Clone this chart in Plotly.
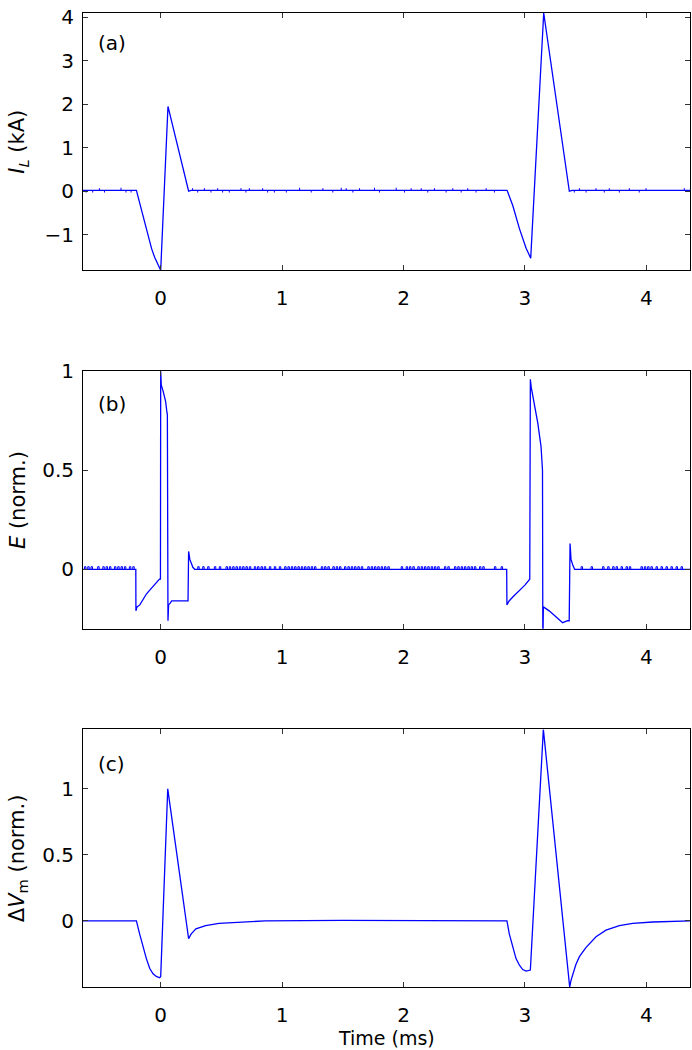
import plotly.graph_objects as go

# ---------------- data ----------------
# (a) lesion current I_L (kA)
IL_t = [-0.64, -0.2, -0.175, -0.15, -0.125, -0.1, -0.075, -0.05, -0.025, 0.0, 0.06, 0.23, 0.25,
        2.853, 2.9, 2.955, 3.01, 3.048, 3.155, 3.366, 3.39, 4.36]
IL_v = [0.02, 0.02, -0.25, -0.52, -0.8, -1.07, -1.32, -1.52, -1.68, -1.82, 1.95, 0.0, 0.02,
        0.02, -0.33, -0.86, -1.31, -1.54, 4.1, 0.0, 0.02, 0.02]
IL_spike_t = [-0.615, -0.56, -0.505, -0.463, -0.327, -0.286, -0.244,
              0.263, 0.305, 0.36, 0.414, 0.469, 0.51, 0.565, 0.661, 0.702, 0.73, 0.84, 0.881, 0.936,
              1.035, 1.144, 1.24, 1.336, 1.418, 1.487, 1.528, 1.583, 1.638, 1.761, 1.802, 1.94,
              2.008, 2.063, 2.146, 2.2, 2.255, 2.351, 2.406, 2.475, 2.529, 2.598, 2.681, 2.749,
              3.407, 3.449, 3.504, 3.586, 3.654, 3.695, 3.778, 3.86, 3.942, 3.998, 4.313]
IL_spike_a = [-0.05, -0.05, 0.05, -0.05, 0.06, -0.05, -0.05,
              0.05, -0.05, 0.05, -0.05, 0.05, -0.05, -0.05, 0.05, -0.05, 0.05, 0.05, -0.05, -0.05,
              -0.05, 0.06, -0.05, 0.05, -0.05, 0.06, 0.05, -0.05, 0.05, 0.06, -0.05, 0.06,
              -0.05, 0.05, 0.05, -0.05, 0.05, -0.05, 0.05, -0.05, 0.05, -0.05, 0.05, -0.05,
              -0.05, 0.05, -0.05, 0.05, -0.05, 0.05, -0.05, 0.05, -0.05, 0.05, 0.05]

# (b) electric field E (norm.)
E_t = [-0.64, -0.205, -0.204, -0.195, -0.172, -0.145, -0.118, -0.09, -0.063, -0.035, -0.01, -0.002,
       0.0, 0.005, 0.02, 0.04, 0.05, 0.055, 0.06, 0.065, 0.08, 0.09, 0.225, 0.23, 0.24, 0.25, 0.265, 0.28,
       2.85, 2.852, 2.87, 2.9, 2.95, 3.0, 3.04, 3.045, 3.052, 3.078, 3.106, 3.133, 3.145, 3.148, 3.152,
       3.2, 3.257, 3.311, 3.352, 3.365, 3.372, 3.38, 3.395, 3.41, 4.36]
E_v = [0, 0, -0.21, -0.19, -0.18, -0.15, -0.125, -0.105, -0.085, -0.07, -0.05, -0.05,
       1.0, 0.93, 0.9, 0.85, 0.80, 0.78, -0.26, -0.18, -0.17, -0.16, -0.16, 0.09, 0.05, 0.03, 0.01, 0.0,
       0.0, -0.18, -0.16, -0.14, -0.11, -0.08, -0.05, 0.96, 0.92, 0.84, 0.74, 0.62, 0.5, -0.4, -0.19,
       -0.21, -0.24, -0.27, -0.26, -0.26, 0.13, 0.05, 0.02, 0.0, 0.0]
E_spike_t = [-0.628, -0.601, -0.574, -0.519, -0.477, -0.45, -0.422, -0.381, -0.354, -0.327, -0.299, -0.258, -0.23,
             0.305, 0.346, 0.387, 0.442, 0.483, 0.538, 0.565, 0.593, 0.62, 0.648, 0.675, 0.702, 0.73,
             0.771, 0.798, 0.826, 0.853, 0.895, 0.936, 0.977, 1.021, 1.048, 1.076, 1.103, 1.13, 1.158,
             1.185, 1.212, 1.24, 1.267, 1.323, 1.35, 1.377, 1.418, 1.446, 1.473, 1.514, 1.542, 1.57,
             1.597, 1.624, 1.652, 1.706, 1.734, 1.761, 1.788, 1.816, 1.844, 1.871, 1.981, 2.022, 2.049,
             2.077, 2.118, 2.146, 2.173, 2.2, 2.228, 2.255, 2.282, 2.337, 2.365, 2.42, 2.447, 2.475,
             2.502, 2.53, 2.557, 2.584, 2.626, 2.653, 2.749, 2.804,
             3.463, 3.545, 3.64, 3.682, 3.723, 3.751, 3.792, 3.833, 3.86, 3.956, 3.984, 4.011, 4.038,
             4.08, 4.121, 4.162, 4.203, 4.245, 4.286]
E_spike_h = 0.013

# (c) membrane potential change dVm (norm.)
Vm_t = [-0.64, -0.2, -0.173, -0.145, -0.118, -0.09, -0.063, -0.036, -0.008, 0.0, 0.058, 0.23, 0.25,
        0.29, 0.37, 0.48, 0.645, 0.86, 1.5, 2.0, 2.5, 2.852, 2.872, 2.9, 2.927, 2.955, 2.982, 3.01,
        3.045, 3.152, 3.369, 3.38, 3.394, 3.42, 3.449, 3.504, 3.586, 3.668, 3.778, 3.888, 4.052, 4.36]
Vm_v = [0, 0, -0.1, -0.2, -0.285, -0.36, -0.4, -0.42, -0.43, -0.42, 1.0, -0.135, -0.1,
        -0.06, -0.035, -0.018, -0.008, 0.0, 0.005, 0.005, 0.005, 0.0, -0.1, -0.2, -0.285, -0.335, -0.368, -0.38,
        -0.372, 1.45, -0.5, -0.45, -0.4, -0.33, -0.27, -0.2, -0.12, -0.07, -0.035, -0.018, -0.008, 0.0]

x_ticks = [0, 1, 2, 3, 4]
x_range = [-0.64, 4.36]
panel_labels = ["(a)", "(b)", "(c)"]

# ---------------- figure ----------------
BLUE = "rgb(0,0,255)"
FONT = "DejaVu Sans, Liberation Sans, Arial, sans-serif"
fig = go.Figure()

fig.add_trace(go.Scatter(x=IL_t, y=IL_v, mode="lines", line=dict(color=BLUE, width=1.3),
                         xaxis="x", yaxis="y", showlegend=False))
sx, sy = [], []
for t, a in zip(IL_spike_t, IL_spike_a):
    sx += [t, t, None]
    sy += [0.02, 0.02 + a, None]
fig.add_trace(go.Scatter(x=sx, y=sy, mode="lines", line=dict(color=BLUE, width=1),
                         xaxis="x", yaxis="y", showlegend=False))

fig.add_trace(go.Scatter(x=E_t, y=E_v, mode="lines", line=dict(color=BLUE, width=1.3),
                         xaxis="x2", yaxis="y2", showlegend=False))
ex, ey = [], []
for t in E_spike_t:
    ex += [t, t, t + 0.012, t + 0.012, None]
    ey += [0, E_spike_h, E_spike_h, 0, None]
fig.add_trace(go.Scatter(x=ex, y=ey, mode="lines", line=dict(color=BLUE, width=1),
                         xaxis="x2", yaxis="y2", showlegend=False))

fig.add_trace(go.Scatter(x=Vm_t, y=Vm_v, mode="lines", line=dict(color=BLUE, width=1.3),
                         xaxis="x3", yaxis="y3", showlegend=False))

axis_common = dict(showline=True, linecolor="black", linewidth=1, mirror="ticks",
                   ticks="inside", ticklen=5, tickcolor="#333", tickwidth=1,
                   showgrid=False, zeroline=False,
                   tickfont=dict(family=FONT, size=20, color="black"))

domains = [[0.7358, 1.0], [0.3679, 0.6321], [0.0, 0.2645]]
y_ranges = [[-1.82, 4.1], [-0.3, 1.0], [-0.5, 1.45]]
y_ticks = [[-1, 0, 1, 2, 3, 4], [0, 0.5, 1], [0, 0.5, 1]]
y_ticktext = [["−1", "0", "1", "2", "3", "4"], ["0", "0.5", "1"], ["0", "0.5", "1"]]

layout = dict(width=692, height=1050, plot_bgcolor="white", paper_bgcolor="white",
              margin=dict(l=83, r=1, t=3, b=63), showlegend=False)
for i in range(3):
    sfx = "" if i == 0 else str(i + 1)
    layout["xaxis" + sfx] = dict(axis_common, domain=[0, 1], range=x_range, tickvals=x_ticks,
                                 anchor="y" + sfx, ticklabelstandoff=10)
    layout["yaxis" + sfx] = dict(axis_common, domain=domains[i], range=y_ranges[i],
                                 tickvals=y_ticks[i], ticktext=y_ticktext[i], anchor="x" + sfx,
                                 ticklabelstandoff=4)
fig.update_layout(**layout)

ytitles = ["<i>I</i><sub><i>L</i></sub> (kA)", "<i>E</i> (norm.)", "Δ<i>V</i><sub>m</sub> (norm.)"]
ycent = [(d[0] + d[1]) / 2 for d in domains]
label_y = [0.9695, 0.5986, 0.2287]
for i in range(3):
    fig.add_annotation(text=ytitles[i], xref="paper", yref="paper", x=-0.107, y=ycent[i],
                       textangle=-90, showarrow=False, xanchor="center", yanchor="middle",
                       font=dict(family=FONT, size=21, color="black"))
    fig.add_annotation(text=panel_labels[i], xref="paper", yref="paper", x=0.022, y=label_y[i],
                       showarrow=False, xanchor="left", yanchor="middle",
                       font=dict(family=FONT, size=20, color="black"))
fig.add_annotation(text="Time (ms)", xref="paper", yref="paper", x=0.5, y=-0.052,
                   showarrow=False, xanchor="center", yanchor="middle",
                   font=dict(family=FONT, size=19, color="black"))

fig.write_html("out.html", config={"displayModeBar": False},
               post_script="document.body.style.margin='0';document.body.style.padding='0';"
                           "document.documentElement.style.overflow='hidden';")
